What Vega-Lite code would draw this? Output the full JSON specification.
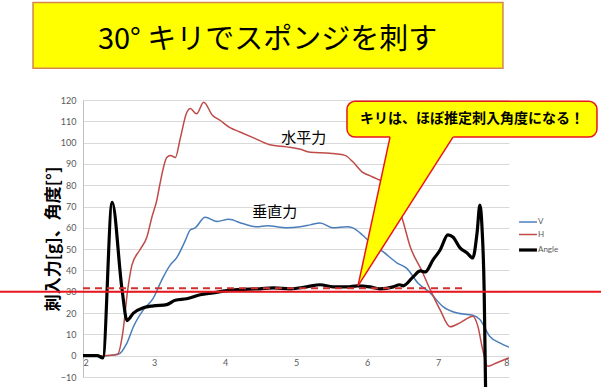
{
  "$schema": "https://vega.github.io/schema/vega-lite/v6.json",
  "width": 426,
  "height": 277,
  "autosize": {"type": "none"},
  "padding": {"left": 83, "top": 100, "right": 92, "bottom": 10},
  "background": "white",
  "config": {"view": {"stroke": null}, "font": "Noto Sans CJK JP"},
  "datasets": {
    "series": [
      {"series": "V", "x": 2.0, "y": 0}, {"series": "V", "x": 2.3, "y": 0}, {"series": "V", "x": 2.49, "y": 0.5},
      {"series": "V", "x": 2.62, "y": 6}, {"series": "V", "x": 2.71, "y": 13.6}, {"series": "V", "x": 2.85, "y": 21.5},
      {"series": "V", "x": 2.99, "y": 27}, {"series": "V", "x": 3.11, "y": 35.6}, {"series": "V", "x": 3.23, "y": 42.6},
      {"series": "V", "x": 3.32, "y": 46}, {"series": "V", "x": 3.44, "y": 54}, {"series": "V", "x": 3.51, "y": 59},
      {"series": "V", "x": 3.58, "y": 60}, {"series": "V", "x": 3.72, "y": 65}, {"series": "V", "x": 3.89, "y": 63},
      {"series": "V", "x": 4.05, "y": 64}, {"series": "V", "x": 4.25, "y": 62}, {"series": "V", "x": 4.45, "y": 60.5},
      {"series": "V", "x": 4.59, "y": 61}, {"series": "V", "x": 4.87, "y": 60}, {"series": "V", "x": 5.06, "y": 60.5},
      {"series": "V", "x": 5.2, "y": 61.4}, {"series": "V", "x": 5.34, "y": 62.3}, {"series": "V", "x": 5.52, "y": 60},
      {"series": "V", "x": 5.72, "y": 60.5}, {"series": "V", "x": 5.8, "y": 60}, {"series": "V", "x": 5.94, "y": 56.5},
      {"series": "V", "x": 6.05, "y": 53}, {"series": "V", "x": 6.23, "y": 48.7}, {"series": "V", "x": 6.42, "y": 43.6},
      {"series": "V", "x": 6.56, "y": 41}, {"series": "V", "x": 6.72, "y": 34}, {"series": "V", "x": 6.89, "y": 29.5},
      {"series": "V", "x": 7.07, "y": 23}, {"series": "V", "x": 7.27, "y": 20}, {"series": "V", "x": 7.49, "y": 19},
      {"series": "V", "x": 7.59, "y": 17}, {"series": "V", "x": 7.73, "y": 9}, {"series": "V", "x": 7.87, "y": 6},
      {"series": "V", "x": 8.0, "y": 4},
      {"series": "H", "x": 2.0, "y": 0}, {"series": "H", "x": 2.3, "y": 0}, {"series": "H", "x": 2.42, "y": 0.3},
      {"series": "H", "x": 2.49, "y": 0.8}, {"series": "H", "x": 2.56, "y": 10.7}, {"series": "H", "x": 2.63, "y": 31},
      {"series": "H", "x": 2.69, "y": 42.6}, {"series": "H", "x": 2.8, "y": 49.6}, {"series": "H", "x": 2.9, "y": 55.7},
      {"series": "H", "x": 2.97, "y": 65}, {"series": "H", "x": 3.04, "y": 73}, {"series": "H", "x": 3.08, "y": 80},
      {"series": "H", "x": 3.18, "y": 93}, {"series": "H", "x": 3.23, "y": 94}, {"series": "H", "x": 3.3, "y": 93},
      {"series": "H", "x": 3.37, "y": 102}, {"series": "H", "x": 3.46, "y": 114}, {"series": "H", "x": 3.51, "y": 116},
      {"series": "H", "x": 3.6, "y": 113.5}, {"series": "H", "x": 3.7, "y": 119}, {"series": "H", "x": 3.82, "y": 113},
      {"series": "H", "x": 3.93, "y": 110.5}, {"series": "H", "x": 4.07, "y": 107}, {"series": "H", "x": 4.21, "y": 105},
      {"series": "H", "x": 4.42, "y": 102}, {"series": "H", "x": 4.63, "y": 99}, {"series": "H", "x": 4.87, "y": 98},
      {"series": "H", "x": 5.05, "y": 97}, {"series": "H", "x": 5.2, "y": 95.5}, {"series": "H", "x": 5.48, "y": 95},
      {"series": "H", "x": 5.69, "y": 94}, {"series": "H", "x": 5.8, "y": 91}, {"series": "H", "x": 5.94, "y": 86},
      {"series": "H", "x": 6.04, "y": 84.5}, {"series": "H", "x": 6.14, "y": 83}, {"series": "H", "x": 6.25, "y": 81},
      {"series": "H", "x": 6.33, "y": 78}, {"series": "H", "x": 6.42, "y": 71}, {"series": "H", "x": 6.49, "y": 65},
      {"series": "H", "x": 6.61, "y": 51}, {"series": "H", "x": 6.77, "y": 40}, {"series": "H", "x": 6.89, "y": 31},
      {"series": "H", "x": 7.03, "y": 21.5}, {"series": "H", "x": 7.17, "y": 13.6}, {"series": "H", "x": 7.31, "y": 15.4},
      {"series": "H", "x": 7.49, "y": 18.5}, {"series": "H", "x": 7.56, "y": 14}, {"series": "H", "x": 7.63, "y": 2.8},
      {"series": "H", "x": 7.7, "y": -5}, {"series": "H", "x": 7.83, "y": -3.3}, {"series": "H", "x": 8.0, "y": -1},
      {"series": "Angle", "x": 2.0, "y": 0}, {"series": "Angle", "x": 2.2, "y": 0}, {"series": "Angle", "x": 2.28, "y": -1},
      {"series": "Angle", "x": 2.41, "y": 72}, {"series": "Angle", "x": 2.55, "y": 31}, {"series": "Angle", "x": 2.62, "y": 16.5},
      {"series": "Angle", "x": 2.71, "y": 20}, {"series": "Angle", "x": 2.85, "y": 22.5}, {"series": "Angle", "x": 2.99, "y": 23.4},
      {"series": "Angle", "x": 3.18, "y": 24}, {"series": "Angle", "x": 3.3, "y": 26}, {"series": "Angle", "x": 3.46, "y": 26.7},
      {"series": "Angle", "x": 3.65, "y": 28.6}, {"series": "Angle", "x": 3.83, "y": 29.5}, {"series": "Angle", "x": 4.03, "y": 30.5},
      {"series": "Angle", "x": 4.17, "y": 31}, {"series": "Angle", "x": 4.49, "y": 31.4}, {"series": "Angle", "x": 4.68, "y": 31.8},
      {"series": "Angle", "x": 4.92, "y": 31.4}, {"series": "Angle", "x": 5.15, "y": 32.3}, {"series": "Angle", "x": 5.34, "y": 33.3},
      {"series": "Angle", "x": 5.52, "y": 32.3}, {"series": "Angle", "x": 5.72, "y": 32.3}, {"series": "Angle", "x": 5.86, "y": 32.8},
      {"series": "Angle", "x": 6.04, "y": 32.3}, {"series": "Angle", "x": 6.18, "y": 31.4}, {"series": "Angle", "x": 6.37, "y": 32.3},
      {"series": "Angle", "x": 6.46, "y": 33.3}, {"series": "Angle", "x": 6.51, "y": 32.8}, {"series": "Angle", "x": 6.65, "y": 37},
      {"series": "Angle", "x": 6.75, "y": 39.8}, {"series": "Angle", "x": 6.82, "y": 39.3}, {"series": "Angle", "x": 6.93, "y": 45},
      {"series": "Angle", "x": 7.03, "y": 49.6}, {"series": "Angle", "x": 7.14, "y": 56.7}, {"series": "Angle", "x": 7.21, "y": 55.7},
      {"series": "Angle", "x": 7.31, "y": 50.6}, {"series": "Angle", "x": 7.41, "y": 48.2}, {"series": "Angle", "x": 7.49, "y": 45.9},
      {"series": "Angle", "x": 7.55, "y": 57.6}, {"series": "Angle", "x": 7.59, "y": 70.7}, {"series": "Angle", "x": 7.62, "y": 60},
      {"series": "Angle", "x": 7.65, "y": 31}, {"series": "Angle", "x": 7.67, "y": -15}
    ],
    "titlebox": [{"x": 1.296, "x2": 7.915, "y": 165.8, "y2": 134.9}],
    "titletext": [{"x": 4.6, "y": 148, "label": "30° キリでスポンジを刺す"}],
    "solidline": [{"x": 0.83, "x2": 9.3, "y": 30}],
    "dashline": [{"x": 2.0, "x2": 7.38, "y": 31.7}],
    "calloutbox": [{"x": 5.718, "x2": 9.239, "y": 119.4, "y2": 102.6}],
    "triangle": [{"y": 103.4, "x": 6.329, "x2": 7.226}, {"y": 32.8, "x": 5.873, "x2": 5.873}],
    "sides": [
      {"side": "L", "x": 6.324, "y": 102.6}, {"side": "L", "x": 5.873, "y": 32.8},
      {"side": "R", "x": 7.211, "y": 102.6}, {"side": "R", "x": 5.873, "y": 32.8}
    ],
    "callouttext": [{"x": 7.48, "y": 111, "label": "キリは、ほぼ推定刺入角度になる！"}],
    "notes": [{"x": 5.11, "y": 102.1, "label": "水平力"}, {"x": 4.7, "y": 67.4, "label": "垂直力"}]
  },
  "encoding": {
    "x": {"field": "x", "type": "quantitative", "scale": {"domain": [2, 8], "nice": false, "zero": false},
      "axis": {"values": [2, 3, 4, 5, 6, 7, 8], "format": "d", "title": null, "grid": false, "ticks": false, "domain": false,
        "offset": -21.3, "labelPadding": 3, "labelFontSize": 9, "labelColor": "#595959", "labelFont": "Lato"}},
    "y": {"field": "y", "type": "quantitative", "scale": {"domain": [-10, 120], "nice": false, "zero": false},
      "axis": {"values": [-10, 0, 10, 20, 30, 40, 50, 60, 70, 80, 90, 100, 110, 120], "format": "d", "labelOverlap": false,
        "title": "刺入力[g]、角度[°]",
        "titleFontSize": 17, "titleFontWeight": "bold", "titleColor": "#000000", "titlePadding": -2,
        "grid": true, "gridColor": "#d9d9d9", "ticks": false, "domain": true, "domainColor": "#bfbfbf",
        "labelFontSize": 9, "labelColor": "#595959", "labelFont": "Lato", "labelPadding": 7}}
  },
  "layer": [
    {
      "data": {"name": "series"},
      "transform": [{"filter": "datum.series !== 'Angle'"}],
      "mark": {"type": "line", "interpolate": "monotone", "clip": false, "strokeWidth": 1.5},
      "encoding": {
        "color": {"field": "series", "type": "nominal",
          "scale": {"domain": ["V", "H", "Angle"], "range": ["#4a7ebb", "#be4b48", "#000000"]},
          "legend": {"orient": "none", "legendX": 441, "legendY": 118, "title": null, "symbolType": "stroke",
            "symbolSize": 320, "labelFontSize": 8, "labelColor": "#595959", "labelFont": "Lato", "rowPadding": 4.5, "labelOffset": 6,
            "values": ["V", "H", "Angle"],
            "encode": {"symbols": {"update": {"strokeWidth": {"signal": "datum.label === 'Angle' ? 3.2 : 1.5"}}}}}}
      }
    },
    {
      "data": {"name": "series"},
      "transform": [{"filter": "datum.series === 'Angle'"}],
      "mark": {"type": "line", "interpolate": "monotone", "clip": false, "strokeWidth": 3.2},
      "encoding": {
        "color": {"field": "series", "type": "nominal"}
      }
    },
    {
      "data": {"name": "solidline"},
      "mark": {"type": "rule", "color": "#e8161e", "strokeWidth": 2, "clip": false},
      "encoding": {"x2": {"field": "x2"}}
    },
    {
      "data": {"name": "dashline"},
      "mark": {"type": "rule", "color": "#d0312d", "strokeWidth": 2, "strokeDash": [7, 5], "clip": false},
      "encoding": {"x2": {"field": "x2"}}
    },
    {
      "data": {"name": "titlebox"},
      "mark": {"type": "rect", "fill": "#ffff00", "stroke": "#d4874e", "strokeWidth": 1.5, "clip": false},
      "encoding": {"x2": {"field": "x2"}, "y2": {"field": "y2"}}
    },
    {
      "data": {"name": "titletext"},
      "mark": {"type": "text", "fontSize": 29, "font": "Noto Sans CJK JP", "color": "#000000", "baseline": "middle", "align": "center", "clip": false},
      "encoding": {"text": {"field": "label"}}
    },
    {
      "data": {"name": "calloutbox"},
      "mark": {"type": "rect", "fill": "#ffff00", "stroke": "#e8161e", "strokeWidth": 1.5, "cornerRadius": 8, "clip": false},
      "encoding": {"x2": {"field": "x2"}, "y2": {"field": "y2"}}
    },
    {
      "data": {"name": "triangle"},
      "mark": {"type": "area", "orient": "horizontal", "fill": "#ffff00", "fillOpacity": 1, "clip": false},
      "encoding": {"x2": {"field": "x2"}}
    },
    {
      "data": {"name": "sides"},
      "mark": {"type": "line", "color": "#e8161e", "strokeWidth": 1.5, "clip": false},
      "encoding": {
        "detail": {"field": "side", "type": "nominal"},
        "order": {"field": "y", "type": "quantitative"}
      }
    },
    {
      "data": {"name": "callouttext"},
      "mark": {"type": "text", "fontSize": 14, "fontWeight": "bold", "font": "Noto Sans CJK JP", "color": "#000000", "baseline": "middle", "align": "center", "clip": false},
      "encoding": {"text": {"field": "label"}}
    },
    {
      "data": {"name": "notes"},
      "mark": {"type": "text", "fontSize": 15, "font": "Noto Sans CJK JP", "color": "#000000", "baseline": "middle", "align": "center", "clip": false},
      "encoding": {"text": {"field": "label"}}
    }
  ]
}
